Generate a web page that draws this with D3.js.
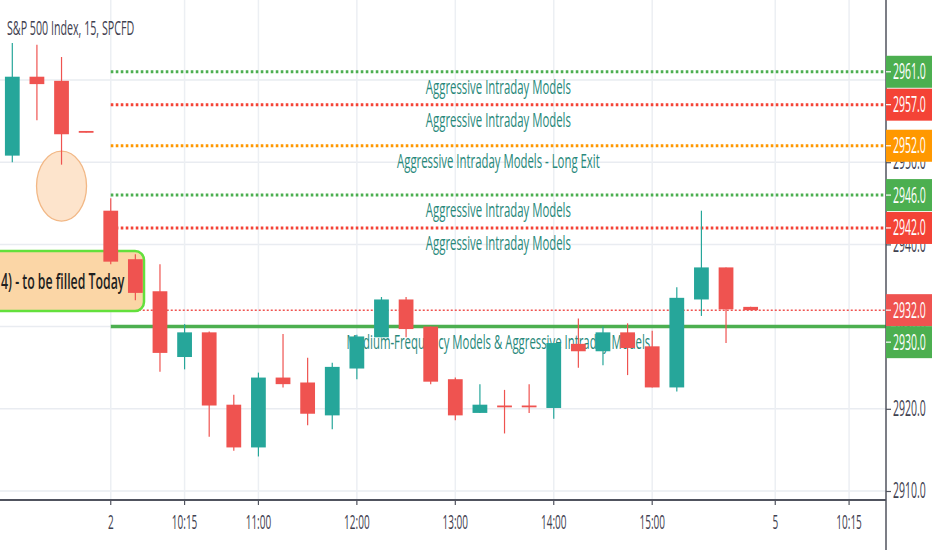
<!DOCTYPE html>
<html>
<head>
<meta charset="utf-8">
<script src="https://cdn.jsdelivr.net/npm/d3@7"></script>
<style>
  html, body { margin: 0; padding: 0; background: #fff; overflow: hidden; }
  svg { display: block; font-family: "Open Sans", sans-serif; }
</style>
</head>
<body>
<div id="chart"></div>
<script>
'use strict';

// time slots on the x axis (15 min bars), incl. empty slots of the next session
const slots = [
  '08-01 15:15', '08-01 15:30', '08-01 15:45', '08-01 16:00',
  '08-02 09:30', '08-02 09:45', '08-02 10:00', '08-02 10:15', '08-02 10:30', '08-02 10:45',
  '08-02 11:00', '08-02 11:15', '08-02 11:30', '08-02 11:45', '08-02 12:00', '08-02 12:15',
  '08-02 12:30', '08-02 12:45', '08-02 13:00', '08-02 13:15', '08-02 13:30', '08-02 13:45',
  '08-02 14:00', '08-02 14:15', '08-02 14:30', '08-02 14:45', '08-02 15:00', '08-02 15:15',
  '08-02 15:30', '08-02 15:45', '08-02 16:00',
  '08-05 09:30', '08-05 09:45', '08-05 10:00', '08-05 10:15', '08-05 10:30'
];

// candles (first 31 slots)
const opens  = [2950.8, 2960.4, 2959.9, 2953.8,
  2944.1, 2938.2, 2934.3, 2926.3, 2929.3, 2920.5, 2915.3, 2923.8, 2923.2, 2919.2, 2924.9, 2928.7,
  2933.3, 2930.0, 2923.6, 2919.5, 2920.4, 2920.4, 2920.1, 2927.9, 2927.0, 2929.3, 2927.6, 2922.6,
  2933.3, 2937.2, 2932.4];
const highs  = [2964.5, 2964.3, 2962.8, 2953.8,
  2945.6, 2938.8, 2937.6, 2930.3, 2929.4, 2921.7, 2924.4, 2929.1, 2926.2, 2925.6, 2929.0, 2933.6,
  2933.6, 2930.0, 2923.8, 2923.0, 2922.3, 2923.0, 2928.0, 2931.0, 2930.0, 2930.4, 2929.5, 2934.8,
  2944.1, 2937.2, 2932.4];
const lows   = [2950.0, 2955.1, 2949.7, 2953.6,
  2937.6, 2933.2, 2924.5, 2924.8, 2916.6, 2914.9, 2914.2, 2922.6, 2918.0, 2917.5, 2923.6, 2928.7,
  2928.7, 2923.0, 2918.6, 2919.5, 2917.0, 2919.5, 2918.8, 2925.0, 2925.3, 2924.1, 2922.6, 2922.1,
  2931.3, 2928.0, 2932.0];
const closes = [2960.4, 2959.5, 2953.4, 2953.6,
  2937.9, 2934.1, 2926.8, 2929.3, 2920.4, 2915.3, 2923.8, 2923.0, 2919.4, 2925.1, 2928.8, 2933.3,
  2929.7, 2923.3, 2919.2, 2920.5, 2920.3, 2920.3, 2928.0, 2927.0, 2929.3, 2927.4, 2922.6, 2933.5,
  2937.2, 2932.1, 2932.0];

// x axis ticks
const tickSlots  = ['08-02 09:30', '08-02 10:15', '08-02 11:00', '08-02 12:00', '08-02 13:00',
                    '08-02 14:00', '08-02 15:00', '08-05 09:30', '08-05 10:15'];
const tickLabels = ['2', '10:15', '11:00', '12:00', '13:00', '14:00', '15:00', '5', '10:15'];

// y axis ticks
const priceTicks = [2910, 2920, 2930, 2940, 2950, 2960];

// horizontal model levels
const levels     = [2961, 2957, 2952, 2946, 2942, 2930];
const levelTexts = [
  'Aggressive Intraday Models',
  'Aggressive Intraday Models',
  'Aggressive Intraday Models - Long Exit',
  'Aggressive Intraday Models',
  'Aggressive Intraday Models',
  'Medium-Frequency Models & Aggressive Intraday Models'
];
const levelColors = ['#4caf50', '#f44336', '#ff9800', '#4caf50', '#f44336', '#4caf50'];
const levelSolid  = [false, false, false, false, false, true];

// annotations
const gapNote   = '4) - to be filled Today';
const markSlot  = '08-01 15:45';
const markPrice = 2947.1;
const title     = 'S&P 500 Index, 15, SPCFD';

// layout
const W = 932, H = 550;
const plotR = 886, plotB = 500;
const upColor = '#26a69a', downColor = '#ef5350';
const textGray = '#3f4150';
const axisSX = 0.5;

const svg = d3.select('#chart').append('svg')
  .attr('width', W)
  .attr('height', H);

svg.append('rect').attr('width', W).attr('height', H).attr('fill', '#fff');

const x = d3.scaleBand().domain(slots).range([0, plotR]);
const cx = id => x(id) + x.bandwidth() / 2;
const y = d3.scaleLinear().domain([2910, 2960]).range([491, 80]);

// squeezed text helper (the screenshot is horizontally compressed)
function label(g, tx, ty, str, size, sx, anchor, color, weight) {
  return g.append('text')
    .attr('transform', `translate(${tx},${ty}) scale(${sx},1)`)
    .attr('text-anchor', anchor)
    .attr('font-size', size)
    .attr('font-weight', weight || 400)
    .attr('fill', color)
    .text(str);
}

// grid
const grid = svg.append('g').attr('class', 'grid');
grid.selectAll('line.h')
  .data(priceTicks)
  .enter().append('line')
  .attr('class', 'h')
  .attr('x1', 0).attr('x2', plotR)
  .attr('y1', d => y(d)).attr('y2', d => y(d))
  .style('stroke', '#e9ecf1').style('stroke-width', 1.5);
grid.selectAll('line.v')
  .data(tickSlots)
  .enter().append('line')
  .attr('class', 'v')
  .attr('x1', d => cx(d)).attr('x2', d => cx(d))
  .attr('y1', 0).attr('y2', plotB)
  .style('stroke', '#eceff3').style('stroke-width', 1.5);

// level lines start at the first bar of the session
const lineStart = cx(tickSlots[0]);
const lvl = svg.append('g').attr('class', 'levels');
lvl.selectAll('line')
  .data(levels)
  .enter().append('line')
  .attr('x1', lineStart).attr('x2', plotR)
  .attr('y1', d => y(d)).attr('y2', d => y(d))
  .style('stroke', (d, i) => levelColors[i])
  .style('stroke-width', (d, i) => levelSolid[i] ? 3.5 : 3)
  .style('stroke-dasharray', (d, i) => levelSolid[i] ? null : '2.6 2.4');

// last price line
const lastPrice = closes[closes.length - 1];
svg.append('line')
  .attr('x1', lineStart).attr('x2', plotR)
  .attr('y1', y(lastPrice)).attr('y2', y(lastPrice))
  .style('stroke', downColor)
  .style('stroke-width', 1.5)
  .style('stroke-dasharray', '2 2');

// level texts
const lt = svg.append('g').attr('class', 'level-text');
levels.forEach((v, i) => {
  label(lt, (lineStart + plotR) / 2, y(v) + 22, levelTexts[i], 20.5, 0.555, 'middle', '#28887a');
});

// circle marker
svg.append('ellipse')
  .attr('cx', cx(markSlot))
  .attr('cy', y(markPrice))
  .attr('rx', 25).attr('ry', 35)
  .attr('fill', '#fde4cc')
  .attr('stroke', '#f2b886')
  .attr('stroke-width', 1.3);

// gap note box
const note = svg.append('g').attr('class', 'note');
note.append('rect')
  .attr('x', -12).attr('y', 251)
  .attr('width', 156).attr('height', 60)
  .attr('rx', 9)
  .attr('fill', '#fbd6a6')
  .attr('stroke', '#63e03c')
  .attr('stroke-width', 2.5);
label(note, 1, 289, gapNote, 22, 0.56, 'start', '#1f1f1f', 600);

// candles
const bars = opens.map((o, i) => ({ id: slots[i], o, h: highs[i], l: lows[i], c: closes[i] }));
const bw = x.bandwidth() * 0.6;
const cg = svg.append('g').attr('class', 'candles')
  .selectAll('g')
  .data(bars)
  .enter().append('g');
cg.append('line')
  .attr('x1', d => cx(d.id)).attr('x2', d => cx(d.id))
  .attr('y1', d => y(d.h)).attr('y2', d => y(d.l))
  .style('stroke', d => d.c >= d.o ? upColor : downColor)
  .style('stroke-width', 1.2);
cg.append('rect')
  .attr('x', d => cx(d.id) - bw / 2)
  .attr('width', bw)
  .attr('y', d => y(Math.max(d.o, d.c)))
  .attr('height', d => Math.max(1.8, Math.abs(y(d.o) - y(d.c))))
  .attr('fill', d => d.c >= d.o ? upColor : downColor);

// title
label(svg, 7, 35, title, 20, 0.535, 'start', textGray);

// bottom axis
const xAxis = svg.append('g')
  .attr('transform', `translate(0,${plotB})`)
  .call(d3.axisBottom(x)
    .tickValues(tickSlots)
    .tickFormat((d, i) => tickLabels[i])
    .tickSize(5)
    .tickSizeOuter(0));
xAxis.select('.domain').remove();
xAxis.selectAll('.tick line').style('stroke', '#50535e').style('stroke-width', 1.2);
xAxis.selectAll('.tick text')
  .attr('y', 29)
  .attr('dy', 0)
  .attr('transform', `scale(${axisSX},1)`)
  .style('font-family', '"Open Sans", sans-serif')
  .style('font-size', '20px')
  .style('fill', textGray);
svg.append('line')
  .attr('x1', 0).attr('x2', plotR)
  .attr('y1', plotB).attr('y2', plotB)
  .style('stroke', '#50535e').style('stroke-width', 2);

// price labels on the axis, pushed down when they overlap
const tags = levels.map((v, i) => ({ v, color: levelColors[i] }))
  .concat([{ v: lastPrice, color: downColor }])
  .sort((a, b) => y(a.v) - y(b.v));
const tagH = 32;
let prevBottom = -Infinity;
tags.forEach(t => {
  t.top = Math.max(y(t.v) - tagH / 2, prevBottom);
  prevBottom = t.top + tagH;
});
// axis labels fully hidden behind a tag are not drawn
const hidden = v => tags.some(t => y(v) > t.top + 4 && y(v) < t.top + tagH - 4);

// right axis
const yAxis = svg.append('g')
  .attr('transform', `translate(${plotR},0)`)
  .call(d3.axisRight(y)
    .tickValues(priceTicks)
    .tickFormat(d3.format('.1f'))
    .tickSize(5)
    .tickSizeOuter(0));
yAxis.select('.domain').remove();
yAxis.selectAll('.tick line').style('stroke', '#50535e').style('stroke-width', 1.2);
yAxis.selectAll('.tick text')
  .attr('x', 7 / axisSX)
  .attr('transform', `scale(${axisSX},1)`)
  .style('font-family', '"Open Sans", sans-serif')
  .style('font-size', '21px')
  .style('fill', textGray);
yAxis.selectAll('.tick').filter(d => hidden(d)).select('text').remove();
svg.append('line')
  .attr('x1', plotR).attr('x2', plotR)
  .attr('y1', 0).attr('y2', H)
  .style('stroke', '#50535e').style('stroke-width', 1.5);

const tg = svg.append('g').attr('class', 'tags')
  .selectAll('g')
  .data(tags)
  .enter().append('g');
tg.append('rect')
  .attr('x', plotR).attr('y', d => d.top)
  .attr('width', W - plotR).attr('height', tagH)
  .attr('fill', d => d.color);
tg.append('line')
  .attr('x1', plotR).attr('x2', plotR + 5)
  .attr('y1', d => d.top + tagH / 2).attr('y2', d => d.top + tagH / 2)
  .style('stroke', '#fff').style('stroke-width', 1.2);
tg.each(function (d) {
  label(d3.select(this), plotR + 7, d.top + tagH / 2 + 7.5, d3.format('.1f')(d.v), 21, axisSX, 'start', '#fff');
});
</script>
</body>
</html>
